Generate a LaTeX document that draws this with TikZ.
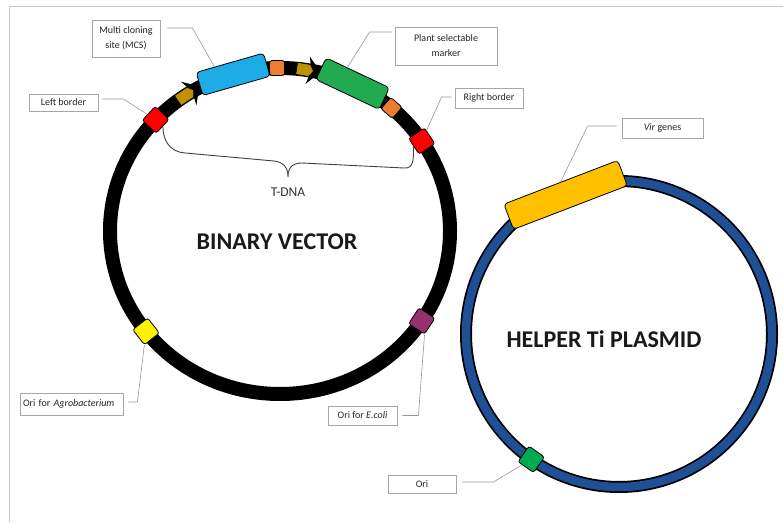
\documentclass[tikz,border=0pt]{standalone}
\usepackage{fontspec}
\setmainfont{Carlito}
\usetikzlibrary{positioning,calc}

\definecolor{mcsblue}{RGB}{30,172,230}
\definecolor{markergreen}{RGB}{33,170,80}
\definecolor{spacer}{RGB}{237,125,49}
\definecolor{promoter}{RGB}{191,144,0}
\definecolor{ecolipurple}{RGB}{150,48,110}
\definecolor{origreen}{RGB}{0,170,80}
\definecolor{virgold}{RGB}{255,192,0}
\definecolor{tiblue}{RGB}{31,80,150}
\definecolor{framegray}{RGB}{200,200,200}
\definecolor{leadgray}{RGB}{150,150,150}

\tikzset{
  site/.style={draw=black, line width=0.8pt, rounded corners=2.5pt, minimum size=19pt, inner sep=0pt},
  gene/.style={draw=black, line width=0.8pt, rounded corners=3.5pt, minimum width=70pt, minimum height=24pt, inner sep=0pt},
  tag/.style={draw=leadgray!85, line width=0.8pt, fill=white, font=\fontsize{10}{15}\selectfont, text=black!85, align=center, inner sep=0pt},
  leader/.style={draw=leadgray, line width=0.6pt},
  brace/.style={draw=black!75, line width=0.9pt},
  title/.style={font=\fontsize{24}{28}\selectfont\bfseries, text=black!90},
}

\begin{document}
\begin{tikzpicture}[x=1pt,y=1pt]
\useasboundingbox (0,0) rectangle (783,522);
% page frame
\draw[framegray, line width=1pt] (9.5,0) -- (9.5,515) -- (783,515);

% binary vector
\coordinate (bv) at (280,291);
\draw[line width=14pt] (bv) ellipse [x radius=170, y radius=163];

% promoters
\begin{scope}[shift={($(bv)+(123.5:170 and 163)$)}, rotate=33.5]
  \fill (3,-14) -- (16,0) -- (3,14) -- (7,0) -- cycle;
  \draw[fill=promoter, line width=0.6pt] (-10,-6) -- (5,-6) -- (9,0) -- (5,6) -- (-10,6) -- cycle;
\end{scope}
\begin{scope}[shift={($(bv)+(81:170 and 163)$)}, rotate=-9]
  \fill (1,-14) -- (14,0) -- (1,14) -- (5,0) -- cycle;
  \draw[fill=promoter, line width=0.6pt] (-10,-6) -- (3,-6) -- (7,0) -- (3,6) -- (-10,6) -- cycle;
\end{scope}

\node[site, fill=red, rotate=47] (lbord) at ($(bv)+(137:170 and 163)$) {};
\node[gene, fill=mcsblue, rotate=16] (mcsbox) at ($(bv)+(106:170 and 163)$) {};
\node[site, fill=spacer, minimum size=15pt, rotate=1] (sp1) at ($(bv)+(91:170 and 163)$) {};
\node[gene, fill=markergreen, rotate=-25.3] (smbox) at ($(bv)+(64.7:170 and 163)$) {};
\node[site, fill=spacer, minimum size=15pt, rotate=-41] (sp2) at ($(bv)+(49:170 and 163)$) {};
\node[site, fill=red, rotate=-56.5] (rbord) at ($(bv)+(33.5:170 and 163)$) {};
\node[site, fill=yellow, rotate=38] (oriagro) at ($(bv)+(218:170 and 163)$) {};
\node[site, fill=ecolipurple, rotate=-33.5] (oriecoli) at ($(bv)+(-33.5:170 and 163)$) {};

% T-DNA brace
\coordinate (tip) at (288,345);
\draw[brace] (lbord.south) .. controls +(0,-14) and (170,370) .. (185,369) -- (274,361)
  .. controls (283,360) and (288,355) .. (tip)
  .. controls (288,355) and (293,359) .. (302,359) -- (404,354)
  .. controls (414,353) and +(0,-12) .. (rbord.south);
\node[below=7pt of tip, font=\fontsize{13.5}{15}\selectfont, text=black!80] (tdna) {T-DNA};

% helper Ti plasmid
\coordinate (tp) at (619,188);
\draw[line width=12pt] (tp) circle [radius=153];
\draw[tiblue, line width=8.5pt] (tp) circle [radius=153];
\node[gene, fill=virgold, minimum width=122pt, minimum height=27pt, rotate=21] (virbox) at ($(tp)+(111:149)$) {};
\node[site, fill=origreen, rotate=55] (hori) at ($(tp)+(235:153)$) {};

\node[title] (bvname) at (277,280) {BINARY VECTOR};
\node[title] (tpname) at (604,183) {HELPER Ti PLASMID};

% labels
\node[tag, minimum width=68pt, minimum height=37pt] (mcs) at (126,483.5) {Multi cloning\\site (MCS)};
\node[tag, minimum width=102pt, minimum height=38pt] (marker) at (446,476) {Plant selectable\\marker};
\node[tag, minimum width=69pt, minimum height=17pt] (lb) at (63.5,419.5) {Left border};
\node[tag, minimum width=68pt, minimum height=20pt] (rb) at (489,424) {Right border};
\node[tag, minimum width=81pt, minimum height=20pt] (vir) at (662.5,394) {\textit{Vir} genes};
\node[tag, text width=97pt, align=left, inner xsep=3pt, minimum height=22pt] (agro) at (71.5,118) {Ori for \textit{Agrobacterium}};
\node[tag, minimum width=69pt, minimum height=19pt] (ecoli) at (362.5,106.5) {Ori for \textit{E.coli}};
\node[tag, minimum width=68pt, minimum height=18pt] (ori) at (422,38) {Ori};

\draw[leader] ([xshift=7pt,yshift=10.5pt]mcs.east) -- ++(25,0) -- ($(mcsbox.north west)!0.55!(mcsbox.north)$);
\draw[leader] ([xshift=-3pt,yshift=14pt]marker.west) -- ++(-22,0) -- ($(smbox.north west)!0.67!(smbox.north)$);
\draw[leader] ([xshift=4pt,yshift=3.5pt]lb.east) -- ++(21,0) -- (lbord);
\draw[leader] ([xshift=-3pt,yshift=1pt]rb.west) -- ++(-10,0) -- (rbord);
\draw[leader] ([xshift=-5pt,yshift=2pt]vir.west) -- ++(-29,0) -- (virbox.north);
\draw[leader] ([xshift=5pt,yshift=2pt]agro.east) -- ++(9,0) -- (oriagro);
\draw[leader] ([xshift=5pt]ecoli.east) -- ++(16,0) -- (oriecoli.south east);
\draw[leader] ([xshift=6pt,yshift=2pt]ori.east) -- ++(31,0) -- (hori);
\end{tikzpicture}
\end{document}
